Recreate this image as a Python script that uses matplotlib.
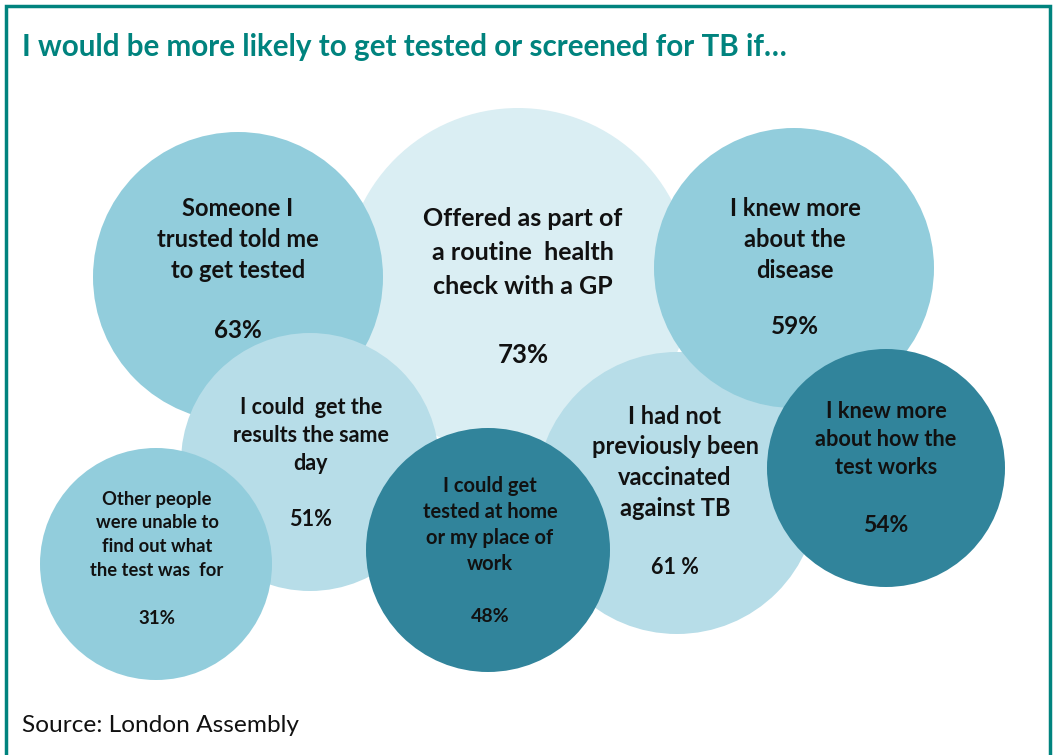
import matplotlib
matplotlib.use("Agg")
import matplotlib.pyplot as plt
from matplotlib.patches import Circle

# ---- data ----
labels = [
    "Offered as part of\na routine  health\ncheck with a GP",
    "I had not\npreviously been\nvaccinated\nagainst TB",
    "Someone I\ntrusted told me\nto get tested",
    "I knew more\nabout the\ndisease",
    "I could  get the\nresults the same\nday",
    "Other people\nwere unable to\nfind out what\nthe test was  for",
    "I could get\ntested at home\nor my place of\nwork",
    "I knew more\nabout how the\ntest works",
]
values = [73, 61, 63, 59, 51, 31, 48, 54]
title = "I would be more likely to get tested or screened for TB if\u2026"
source = "Source: London Assembly"

# ---- layout (pixel space, y down) ----
cx = [518, 677, 238, 794, 310, 156, 488, 886]
cy = [282, 493, 277, 268, 462, 564, 550, 468]
rad = [174, 141, 145, 140, 129, 116, 122, 119]
colors = ["#DAEEF3", "#B7DDE8", "#92CDDC", "#92CDDC", "#B7DDE8", "#92CDDC", "#31849B", "#31849B"]
text_x = [523, 675, 238, 795, 311, 157, 490, 886]
text_top = [218, 416, 209, 209, 407, 499, 486, 411]
line_gap = [34.5, 30.7, 30.5, 30.5, 28.5, 23.7, 26, 28]
pct_y = [355, 568, 330, 327, 519, 618, 616, 526]
fsize = [18, 17, 17, 17, 15.5, 13.2, 14.5, 15.7]
pct_size = [18.5, 15.5, 17.5, 17.5, 15.6, 13.5, 14, 16.5]
pct_sep = ["", " ", "", "", "", "", "", ""]

W, H = 1055, 755
fig = plt.figure(figsize=(W / 100, H / 100), dpi=100)
ax = fig.add_axes([0, 0, 1, 1])
ax.set_xlim(0, W)
ax.set_ylim(H, 0)
ax.axis("off")

teal = "#00837E"
# frame
ax.plot([6, 6, 1050, 1050], [H + 5, 6, 6, H + 5], color=teal, lw=2.5, solid_joinstyle="miter", zorder=1)

font = "Lato"
for i in range(len(values)):
    ax.add_patch(Circle((cx[i], cy[i]), rad[i], facecolor=colors[i], edgecolor="none", zorder=2 + i))
    for j, line in enumerate(labels[i].split("\n")):
        ax.text(text_x[i], text_top[i] + j * line_gap[i], line, ha="center", va="center",
                fontsize=fsize[i], fontweight="bold", family=font, color="#111111", zorder=20)
    ax.text(text_x[i], pct_y[i], f"{values[i]}{pct_sep[i]}%", ha="center", va="center",
            fontsize=pct_size[i], fontweight="bold", family=font, color="#111111", zorder=20)

ax.text(22, 47, title, ha="left", va="center", fontsize=21.3, fontweight="bold", family=font, color=teal)
ax.text(22, 725, source, ha="left", va="center", fontsize=17.6, family=font, color="#111111")

fig.savefig("out.png", dpi=100)
